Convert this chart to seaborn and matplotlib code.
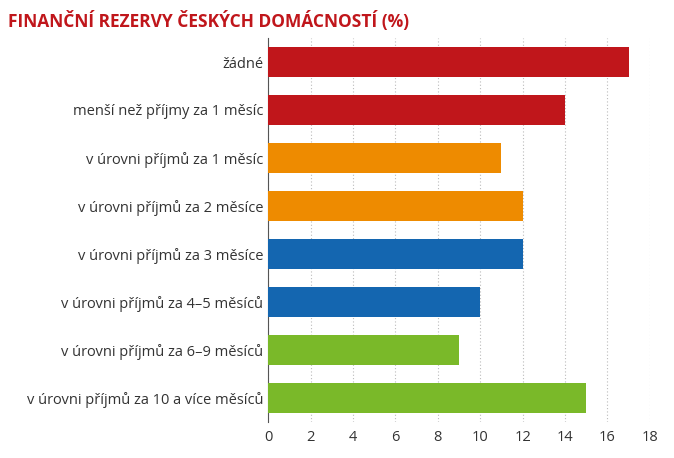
import matplotlib
matplotlib.use("Agg")
import matplotlib.pyplot as plt
import seaborn as sns
import pandas as pd

categories = ["žádné", "menší než příjmy za 1 měsíc", "v úrovni příjmů za 1 měsíc",
              "v úrovni příjmů za 2 měsíce", "v úrovni příjmů za 3 měsíce",
              "v úrovni příjmů za 4–5 měsíců", "v úrovni příjmů za 6–9 měsíců",
              "v úrovni příjmů za 10 a více měsíců"]
values = [17, 14, 11, 12, 12, 10, 9, 15]
colors = ["#C0161B", "#C0161B", "#EE8B00", "#EE8B00", "#1466B0", "#1466B0", "#7AB929", "#7AB929"]
ticks = [0, 2, 4, 6, 8, 10, 12, 14, 16, 18]

df = pd.DataFrame({"cat": categories, "val": values})
plt.rcParams["font.family"] = "Open Sans"
fig = plt.figure(figsize=(6.74, 4.58), dpi=100)
ax = fig.add_axes([0.398, 0.079, 0.566, 0.838])
sns.barplot(data=df, x="val", y="cat", hue="cat", palette=colors, legend=False,
            width=0.62, saturation=1, ax=ax, zorder=3)
ax.set_xlim(0, 18)
ax.set_xticks(ticks)
ax.set_xlabel("")
ax.set_ylabel("")
ax.grid(axis="x", color="#bbbbbb", linestyle=(0, (1, 2)), linewidth=0.8, zorder=0)
for s in ["top", "right", "bottom"]:
    ax.spines[s].set_visible(False)
ax.spines["left"].set_color("#555555")
ax.tick_params(axis="both", length=0, labelsize=10.5, colors="#333333")
ax.tick_params(axis="x", pad=6)
fig.text(0.012, 0.955, "FINANČNÍ REZERVY ČESKÝCH DOMÁCNOSTÍ (%)", color="#C0161B",
         fontsize=12.5, fontweight="bold", va="center")
fig.savefig("out.png", dpi=100)
